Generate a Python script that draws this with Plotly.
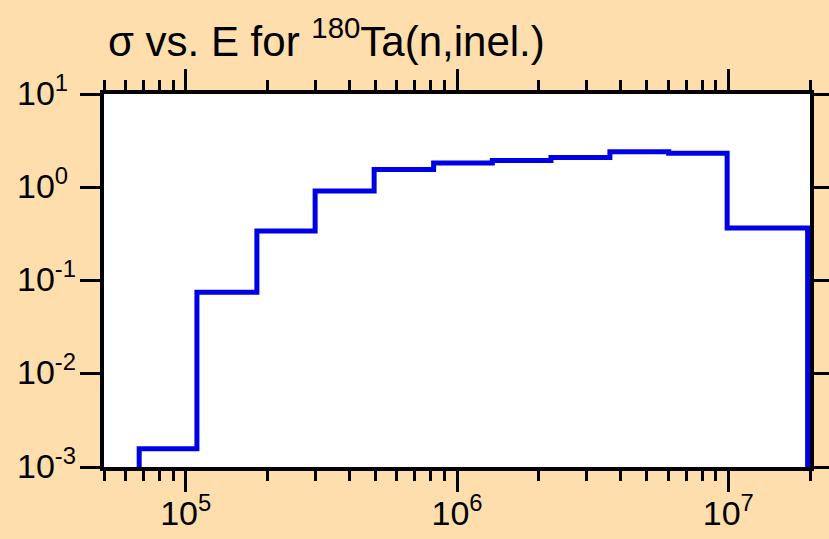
import math
import plotly.graph_objects as go

# Group boundaries (eV) and cross sections (b)
energy_edges = [6.74e4, 1.10e5, 1.83e5, 3.0e5, 4.95e5, 8.2e5, 1.35e6,
                2.22e6, 3.66e6, 6.03e6, 9.9e6, 1.96e7]
sigma = [1.57e-3, 0.0746, 0.34, 0.912, 1.55, 1.82, 1.94, 2.08, 2.41, 2.31, 0.366]
floor = 1e-3

x_major = [1e5, 1e6, 1e7]
x_major_text = ["10<sup>5</sup>", "10<sup>6</sup>", "10<sup>7</sup>"]
x_minor = [m * 10 ** d for d in (4, 5, 6, 7) for m in range(2, 10)
           if 5e4 <= m * 10 ** d <= 2e7]
y_major = [1e-3, 1e-2, 1e-1, 1e0, 1e1]
y_major_text = ["10<sup>-3</sup>", "10<sup>-2</sup>", "10<sup>-1</sup>",
                "10<sup>0</sup>", "10<sup>1</sup>"]

FONT = "Liberation Sans, Arial, sans-serif"
L, R, T, B = 104, 19, 94, 72
plot_w = 829 - L - R

# step outline: rise from the axis floor, histogram steps, drop back to the floor
xs = [energy_edges[0]] + energy_edges
ys = [floor] + sigma + [floor]

fig = go.Figure()
fig.add_trace(go.Scatter(
    x=xs, y=ys, mode="lines", line_shape="hv",
    line=dict(color="#0000E6", width=5),
    showlegend=False, hoverinfo="skip"
))

# y labels are left aligned in the original, so draw them as annotations
for v, txt in zip(y_major, y_major_text):
    fig.add_annotation(
        x=(15 - L) / plot_w, xref="paper", xanchor="left",
        y=math.log10(v), yref="y", yanchor="middle", yshift=4,
        text=txt, showarrow=False,
        font=dict(family=FONT, size=34, color="black")
    )

fig.update_layout(
    width=829, height=539,
    paper_bgcolor="#FFDEAD",
    plot_bgcolor="#FFFFFF",
    margin=dict(l=L, r=R, t=T, b=B),
    font=dict(family=FONT, size=34, color="black"),
    title=dict(
        text="σ vs. E for <sup>180</sup>Ta(n,inel.)",
        x=108 / 829, xanchor="left", xref="container",
        y=1 - 41 / 539, yanchor="middle", yref="container",
        font=dict(family=FONT, size=42, color="black")
    ),
    xaxis=dict(
        type="log", range=[4.69897, 7.30103], automargin=False,
        showline=True, linecolor="black", linewidth=4, mirror="ticks",
        showgrid=False, zeroline=False,
        ticks="outside", ticklen=21, tickwidth=2.5, tickcolor="black",
        tickmode="array", tickvals=x_major, ticktext=x_major_text,
        ticklabelstandoff=-8,
        minor=dict(tickmode="array", tickvals=x_minor, ticks="outside",
                   ticklen=10, tickwidth=2.5, tickcolor="black", showgrid=False),
        tickfont=dict(family=FONT, size=34)
    ),
    yaxis=dict(
        type="log", range=[-3, 1], automargin=False,
        showline=True, linecolor="black", linewidth=4, mirror="ticks",
        showgrid=False, zeroline=False,
        ticks="outside", ticklen=20, tickwidth=2.5, tickcolor="black",
        tickmode="array", tickvals=y_major, showticklabels=False
    )
)

fig.write_html("out.html", config={"displayModeBar": False},
               post_script="document.body.style.margin='0';"
                           "document.body.style.background='#FFDEAD';")
